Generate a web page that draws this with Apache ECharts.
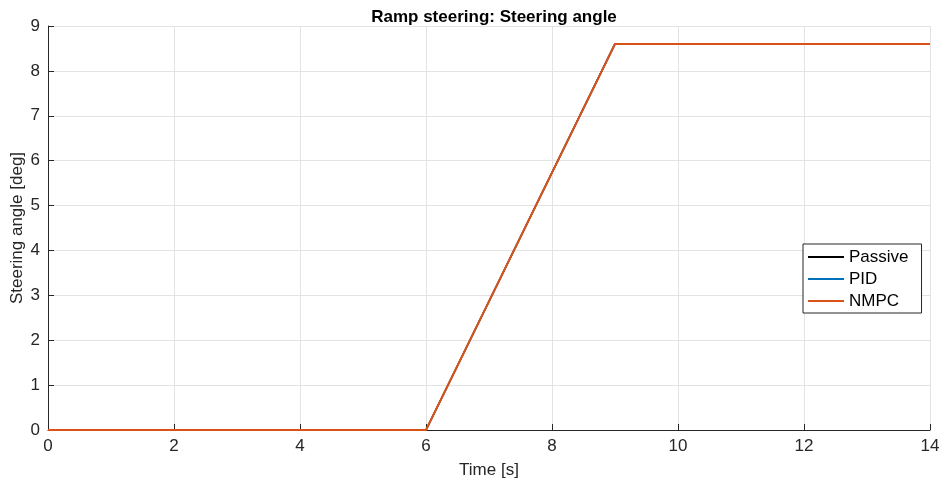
<!DOCTYPE html>
<html>
<head>
    <meta charset="utf-8">
    <title>Ramp steering</title>
    <script src="https://cdn.jsdelivr.net/npm/echarts@6/dist/echarts.min.js"></script>
    <style>
        html, body { margin: 0; padding: 0; background: #fff; }
        #chart { width: 943px; height: 486px; }
    </style>
</head>
<body>
<div id="chart"></div>
<script type="text/javascript">
    // data
    var timeS = [0, 6, 9, 14];
    var passive = [0, 0, 8.6, 8.6];
    var pid = [0, 0, 8.6, 8.6];
    var nmpc = [0, 0, 8.6, 8.6];

    function pairs(ys) {
        return timeS.map(function (t, i) { return [t, ys[i]]; });
    }

    var font = 'Liberation Sans, Arial, sans-serif';
    var axisCol = '#262626';

    var myChart = echarts.init(document.getElementById('chart'));
    myChart.setOption({
        animation: false,
        title: {
            text: 'Ramp steering: Steering angle',
            left: 489, top: 4, textAlign: 'center',
            textStyle: {fontFamily: font, fontSize: 17, fontWeight: 'bold', color: '#000'}
        },
        grid: {left: 48, right: 13, top: 26, bottom: 56, outerBoundsMode: 'none', containLabel: false},
        legend: {
            orient: 'vertical',
            left: 803, top: 244,
            padding: [4, 13, 3, 4],
            itemGap: 4,
            itemWidth: 36,
            itemHeight: 2,
            itemTextGap: 5,
            backgroundColor: '#fff',
            borderColor: '#262626',
            borderWidth: 1,
            borderRadius: 0,
            textStyle: {fontFamily: font, fontSize: 17, color: '#000', lineHeight: 18},
            data: ['Passive', 'PID', 'NMPC']
        },
        xAxis: {
            type: 'value', min: 0, max: 14, interval: 2,
            name: 'Time [s]', nameLocation: 'middle', nameGap: 32,
            nameTextStyle: {fontFamily: font, fontSize: 17, color: axisCol},
            axisLine: {onZero: false, lineStyle: {color: axisCol}},
            axisTick: {inside: true, length: 6, lineStyle: {color: axisCol}},
            axisLabel: {fontFamily: font, fontSize: 17, color: axisCol, margin: 8},
            splitLine: {show: true, lineStyle: {color: '#e3e3e3'}}
        },
        yAxis: {
            type: 'value', min: 0, max: 9, interval: 1,
            name: 'Steering angle [deg]', nameLocation: 'middle', nameGap: 22,
            nameMoveOverlap: false,
            nameTextStyle: {fontFamily: font, fontSize: 17, color: axisCol},
            axisLine: {show: true, onZero: false, lineStyle: {color: axisCol}},
            axisTick: {show: true, inside: true, length: 6, lineStyle: {color: axisCol}},
            axisLabel: {fontFamily: font, fontSize: 17, color: axisCol, margin: 8},
            splitLine: {show: true, lineStyle: {color: '#e3e3e3'}}
        },
        series: [
            {name: 'Passive', type: 'line', data: pairs(passive), symbol: 'none',
                lineStyle: {width: 1.6, color: '#000'}, itemStyle: {color: '#000'}},
            {name: 'PID', type: 'line', data: pairs(pid), symbol: 'none',
                lineStyle: {width: 1.6, color: '#0072BD'}, itemStyle: {color: '#0072BD'}},
            {name: 'NMPC', type: 'line', data: pairs(nmpc), symbol: 'none',
                lineStyle: {width: 2, color: '#D95319'}, itemStyle: {color: '#D95319'}}
        ]
    });
</script>
</body>
</html>
